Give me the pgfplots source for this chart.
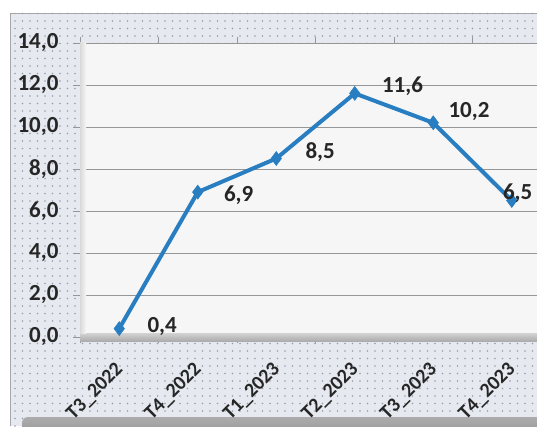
\documentclass[border=0pt]{standalone}
\usepackage{pgfplots}
\pgfplotsset{compat=1.18}
\usepackage{pgfplotstable}
\usepackage{fontspec}
\setmainfont{Carlito}
\usetikzlibrary{patterns.meta}
\definecolor{lineblue}{RGB}{40,126,192}
\definecolor{framebg}{RGB}{230,234,240}
\definecolor{dotc}{RGB}{150,158,172}
\definecolor{gridc}{RGB}{150,150,150}
\definecolor{barc}{RGB}{130,137,144}
\definecolor{plotbg}{RGB}{246,246,246}

\pgfplotstableread{
x y dx dy
0 0.4 28 2
1 6.9 26 -3
2 8.5 29 6
3 11.6 27 7
4 10.2 15 11
5 6.5 -9 7
}\data

\begin{document}
\begin{tikzpicture}[x=1pt,y=1pt]
\fill[white] (0,0) rectangle (537,426);
\fill[framebg] (10,0) rectangle (560,413);
\fill[pattern={Dots[distance=7.5pt,radius=0.9pt]},pattern color=dotc] (10,0) rectangle (560,413);
\draw[gray!70, line width=0.8pt] (10,0) -- (10,413) -- (560,413);
\shade[top color=gray!65, bottom color=gray!90, rounded corners=6pt] (22,-20) rectangle (580,9);
\begin{axis}[
  at={(80pt,89pt)}, anchor=south west,
  scale only axis, width=471pt, height=294pt,
  xmin=-0.5, xmax=5.5, ymin=0, ymax=14,
  xtick={0,...,5},
  xticklabels={T3\_2022,T4\_2022,T1\_2023,T2\_2023,T3\_2023,T4\_2023},
  minor xtick={-0.5,0.5,...,5.5},
  ytick={0,2,...,14},
  ymajorgrids, major grid style={gridc, line width=0.8pt},
  axis background/.style={fill=plotbg},
  axis line style={gridc, line width=0.8pt},
  tick align=outside, major tick length=7pt, minor tick length=6pt,
  xtick style={draw=none},
  minor x tick style={draw=gridc, line width=0.8pt},
  ytick style={gridc, line width=0.8pt},
  yticklabel={\pgfmathprintnumber[fixed,fixed zerofill,precision=1,use comma,assume math mode=true]{\tick}},
  yticklabel style={font=\fontsize{23}{26}\selectfont\bfseries, text=black!85, xshift=-11pt},
  xticklabel style={rotate=45, anchor=north east, font=\fontsize{20}{23}\selectfont\bfseries, text=black!85, xshift=-12pt, yshift=-5pt},
  clip=false,
]
\shade[top color=gray!35, bottom color=gray!65] ([yshift=-4pt]rel axis cs:0,0) rectangle ([yshift=4pt]rel axis cs:1,0);
\shade[left color=gray!30, right color=plotbg] ([yshift=4pt]rel axis cs:0,0) rectangle ([xshift=6pt]rel axis cs:0,1);
\addplot[lineblue, line width=4pt, mark=diamond*, mark size=7pt,
  mark options={solid, fill=lineblue, draw=lineblue, line width=0.5pt},
  visualization depends on={\thisrow{dx}\as\dx},
  visualization depends on={\thisrow{dy}\as\dy},
  point meta=explicit,
  nodes near coords={\pgfmathprintnumber[fixed,fixed zerofill,precision=1,use comma,assume math mode=true]{\pgfplotspointmeta}},
  every node near coord/.append style={anchor=west, inner sep=0pt, xshift=\dx pt, yshift=\dy pt, font=\fontsize{23}{26}\selectfont\bfseries, text=black!85},
] table[x=x, y=y, meta=y]{\data};
\end{axis}
\pgfresetboundingbox
\useasboundingbox (0,0) rectangle (537,426);
\end{tikzpicture}
\end{document}
